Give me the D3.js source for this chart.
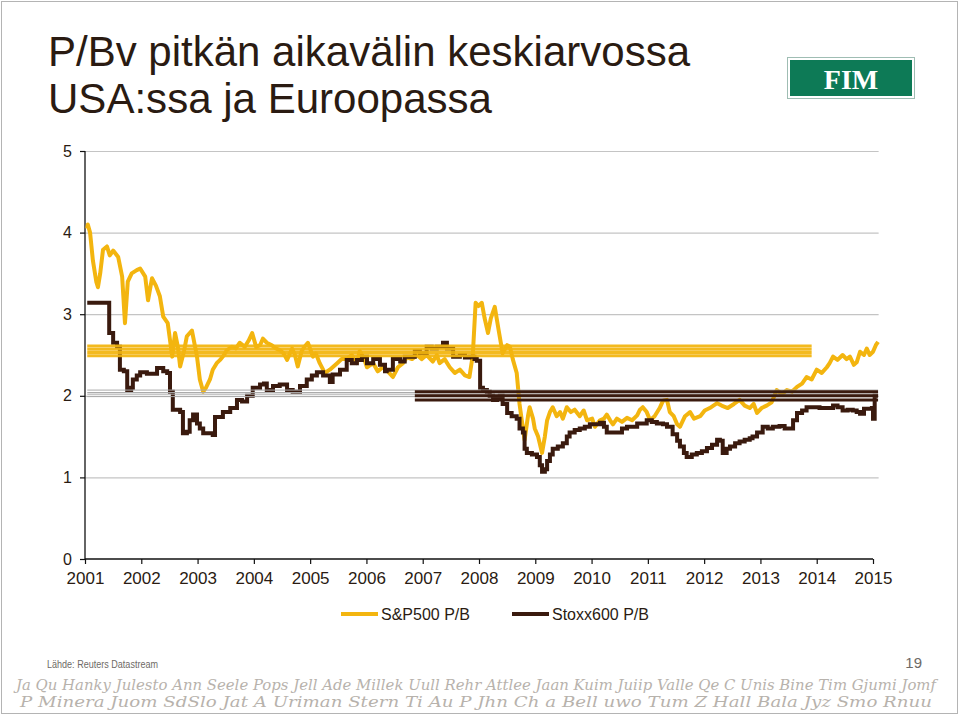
<!DOCTYPE html>
<html lang="fi">
<head>
<meta charset="UTF-8">
<title>P/Bv pitkän aikavälin keskiarvossa</title>
<script src="https://d3js.org/d3.v7.min.js"></script>
<style>
  body { margin: 0; background: #fff; }
  svg { display: block; font-family: "Liberation Sans", Arial, sans-serif; }
</style>
</head>
<body>
<svg id="chart" width="960" height="716"></svg>
<script>
// --- data (decimal year, P/B) ---
const spYears = [2001.04, 2001.05, 2001.09, 2001.14, 2001.20, 2001.23, 2001.27, 2001.32, 2001.39, 2001.44, 2001.50, 2001.59, 2001.66, 2001.71, 2001.76, 2001.83, 2001.92, 2001.98,
  2002.07, 2002.12, 2002.19, 2002.26, 2002.33, 2002.39, 2002.47, 2002.55, 2002.60, 2002.65, 2002.69, 2002.76, 2002.81, 2002.90, 2002.99,
  2003.04, 2003.10, 2003.15, 2003.22, 2003.27, 2003.34, 2003.40, 2003.47, 2003.52, 2003.61, 2003.68, 2003.75, 2003.84, 2003.91, 2003.97,
  2004.04, 2004.11, 2004.16, 2004.23, 2004.32, 2004.39, 2004.46, 2004.53, 2004.59, 2004.68, 2004.73, 2004.78, 2004.85, 2004.90, 2004.96,
  2005.05, 2005.10, 2005.17, 2005.26, 2005.35, 2005.48, 2005.56, 2005.65, 2005.74, 2005.83, 2005.88, 2005.96,
  2006.01, 2006.12, 2006.20, 2006.29, 2006.38, 2006.47, 2006.56, 2006.65, 2006.72, 2006.81, 2006.90, 2006.98,
  2007.07, 2007.18, 2007.25, 2007.30, 2007.39, 2007.48, 2007.57, 2007.66, 2007.75, 2007.83, 2007.89, 2007.94, 2007.99,
  2008.05, 2008.10, 2008.16, 2008.21, 2008.28, 2008.35, 2008.42, 2008.50, 2008.55, 2008.60, 2008.67, 2008.72, 2008.76, 2008.81, 2008.87, 2008.90, 2008.96, 2008.99,
  2009.05, 2009.12, 2009.17, 2009.21, 2009.26, 2009.31, 2009.38, 2009.44, 2009.49, 2009.56, 2009.63, 2009.70, 2009.79, 2009.86, 2009.92,
  2010.01, 2010.06, 2010.15, 2010.22, 2010.27, 2010.33, 2010.38, 2010.45, 2010.54, 2010.63, 2010.72, 2010.81, 2010.86, 2010.91, 2010.98,
  2011.04, 2011.12, 2011.21, 2011.27, 2011.34, 2011.39, 2011.46, 2011.52, 2011.57, 2011.66, 2011.75, 2011.82, 2011.93,
  2012.01, 2012.10, 2012.23, 2012.31, 2012.42, 2012.53, 2012.63, 2012.72, 2012.81, 2012.88, 2012.94,
  2013.02, 2013.11, 2013.20, 2013.29, 2013.38, 2013.47, 2013.56, 2013.65, 2013.74, 2013.82, 2013.91,
  2014.00, 2014.09, 2014.18, 2014.23, 2014.29, 2014.37, 2014.46, 2014.53, 2014.59, 2014.66, 2014.71, 2014.77, 2014.84, 2014.89, 2014.94,
  2015.00, 2015.05, 2015.09];
const spValues = [4.05, 4.1, 4.0, 3.66, 3.4, 3.33, 3.5, 3.79, 3.83, 3.72, 3.78, 3.7, 3.46, 2.89, 3.4, 3.5, 3.54, 3.56,
  3.46, 3.17, 3.44, 3.35, 3.22, 2.97, 2.89, 2.48, 2.77, 2.6, 2.36, 2.55, 2.73, 2.8, 2.48,
  2.2, 2.05, 2.1, 2.2, 2.32, 2.4, 2.44, 2.5, 2.56, 2.6, 2.58, 2.65, 2.6, 2.68, 2.77,
  2.6, 2.62, 2.7, 2.65, 2.62, 2.58, 2.56, 2.52, 2.44, 2.58, 2.5, 2.36, 2.55, 2.6, 2.65,
  2.48, 2.52, 2.4, 2.28, 2.32, 2.4, 2.45, 2.45, 2.5, 2.4, 2.55, 2.45,
  2.35, 2.4, 2.3, 2.35, 2.3, 2.23, 2.35, 2.4, 2.47, 2.45, 2.5, 2.45,
  2.5, 2.42, 2.5, 2.4, 2.45, 2.35, 2.28, 2.32, 2.25, 2.23, 2.5, 3.14, 3.1,
  3.14, 2.95, 2.77, 2.95, 3.09, 2.8, 2.52, 2.62, 2.6, 2.45, 2.28, 1.9, 1.7, 1.46, 1.75, 1.86, 1.72, 1.6,
  1.5, 1.3, 1.5, 1.7, 1.8, 1.86, 1.75, 1.8, 1.72, 1.86, 1.8, 1.83, 1.75, 1.82, 1.7,
  1.72, 1.62, 1.7, 1.72, 1.77, 1.7, 1.65, 1.72, 1.68, 1.73, 1.7, 1.76, 1.83, 1.86, 1.8,
  1.7, 1.75, 1.85, 1.94, 1.95, 1.8, 1.75, 1.65, 1.62, 1.75, 1.8, 1.72, 1.75,
  1.82, 1.85, 1.91, 1.88, 1.85, 1.9, 1.95, 1.88, 1.85, 1.9, 1.79,
  1.85, 1.88, 1.92, 2.07, 2.02, 2.07, 2.05, 2.11, 2.15, 2.23, 2.2,
  2.32, 2.28, 2.35, 2.4, 2.48, 2.44, 2.5, 2.45, 2.48, 2.38, 2.41, 2.54, 2.5, 2.58, 2.5,
  2.54, 2.62, 2.66];

const stoxxYears = [2001.04, 2001.41, 2001.43, 2001.50, 2001.57, 2001.62, 2001.69, 2001.75, 2001.82, 2001.85, 2001.92, 2001.98,
  2002.10, 2002.19, 2002.28, 2002.39, 2002.46, 2002.51, 2002.56, 2002.69, 2002.74, 2002.81, 2002.86, 2002.92, 2002.99,
  2003.04, 2003.10, 2003.27, 2003.31, 2003.45, 2003.58, 2003.70, 2003.79, 2003.88, 2003.98,
  2004.11, 2004.18, 2004.23, 2004.34, 2004.46, 2004.59, 2004.69, 2004.82, 2004.94,
  2005.03, 2005.12, 2005.23, 2005.35, 2005.40, 2005.53, 2005.65, 2005.74, 2005.83, 2005.92,
  2006.01, 2006.12, 2006.24, 2006.33, 2006.36, 2006.47, 2006.60, 2006.68, 2006.77, 2006.86, 2006.95,
  2007.07, 2007.16, 2007.25, 2007.36, 2007.43, 2007.54, 2007.66, 2007.75, 2007.83, 2007.92, 2007.96,
  2008.02, 2008.07, 2008.14, 2008.19, 2008.25, 2008.32, 2008.37, 2008.42, 2008.50, 2008.58, 2008.67, 2008.72, 2008.78, 2008.81, 2008.85, 2008.94,
  2009.03, 2009.08, 2009.12, 2009.17, 2009.21, 2009.26, 2009.31, 2009.40, 2009.49, 2009.56, 2009.61, 2009.70, 2009.79, 2009.88, 2009.97,
  2010.06, 2010.15, 2010.22, 2010.27, 2010.36, 2010.45, 2010.54, 2010.63, 2010.72, 2010.81, 2010.89, 2010.98,
  2011.07, 2011.16, 2011.27, 2011.34, 2011.39, 2011.44, 2011.52, 2011.57, 2011.64, 2011.69, 2011.78, 2011.87, 2011.96,
  2012.05, 2012.14, 2012.23, 2012.28, 2012.33, 2012.40, 2012.46, 2012.55, 2012.63, 2012.72, 2012.81, 2012.86, 2012.94,
  2013.04, 2013.13, 2013.22, 2013.34, 2013.43, 2013.52, 2013.58, 2013.65, 2013.74, 2013.82, 2013.91,
  2014.05, 2014.18, 2014.29, 2014.37, 2014.46, 2014.55, 2014.64, 2014.71, 2014.77, 2014.84, 2014.93, 2014.98,
  2015.00, 2015.03, 2015.09];
const stoxxValues = [3.14, 3.14, 2.77, 2.65, 2.6, 2.32, 2.3, 2.07, 2.1, 2.2, 2.25, 2.29,
  2.27, 2.27, 2.34, 2.3, 2.28, 2.05, 1.83, 1.8, 1.54, 1.56, 1.7, 1.77, 1.66,
  1.6, 1.54, 1.52, 1.74, 1.8, 1.85, 1.95, 1.93, 2.0, 2.1,
  2.14, 2.15, 2.07, 2.12, 2.14, 2.07, 2.05, 2.12, 2.2,
  2.25, 2.29, 2.25, 2.17, 2.26, 2.32, 2.44, 2.4, 2.44, 2.48,
  2.4, 2.45, 2.38, 2.3, 2.32, 2.45, 2.42, 2.48, 2.48, 2.55, 2.52,
  2.6, 2.58, 2.6, 2.65, 2.58, 2.48, 2.5, 2.47, 2.48, 2.45, 2.43,
  2.1, 2.07, 2.05, 2.0, 1.95, 1.98, 2.0, 1.9, 1.79, 1.75, 1.72, 1.6, 1.55, 1.35, 1.3, 1.28,
  1.25, 1.15, 1.07, 1.1, 1.2, 1.28, 1.35, 1.38, 1.42, 1.5, 1.55, 1.58, 1.6, 1.62, 1.65,
  1.65, 1.67, 1.62, 1.55, 1.55, 1.55, 1.6, 1.62, 1.62, 1.66, 1.66, 1.7,
  1.68, 1.66, 1.65, 1.62, 1.62, 1.53, 1.45, 1.38, 1.3, 1.25, 1.28, 1.3, 1.32,
  1.36, 1.4, 1.46, 1.45, 1.3, 1.35, 1.38, 1.42, 1.44, 1.46, 1.48, 1.5, 1.55,
  1.62, 1.6, 1.62, 1.63, 1.6, 1.6, 1.7, 1.79, 1.82, 1.86, 1.86,
  1.85, 1.85, 1.88, 1.86, 1.82, 1.83, 1.82, 1.8, 1.78, 1.84, 1.84, 1.85,
  1.72, 2.0, 2.0];

// long-term averages, drawn as stacked bands like the original
const spAvgLevels = [2.49, 2.53, 2.57, 2.61];
const spAvgSpan = [2001.04, 2013.91];
const stoxxAvgThin = [1.99, 2.02, 2.04, 2.07];
const stoxxAvgThick = [1.95, 2.0, 2.05];
const stoxxAvgSpan = [2001.04, 2015.09];
const stoxxAvgThickStart = 2006.86;

const yearTicks = d3.range(2001, 2016);
const valueTicks = [0, 1, 2, 3, 4, 5];
const seriesNames = ["S&P500 P/B", "Stoxx600 P/B"];

const yellow = "#f3b50f", brown = "#3a1a0e", ink = "#2a1b12";

const svg = d3.select("#chart");

// slide frame
svg.append("rect").attr("x", 1.5).attr("y", 1.5).attr("width", 956).attr("height", 712)
  .attr("fill", "none").attr("stroke", "#b4b4b4");

// title
const title = ["P/Bv pitkän aikavälin keskiarvossa", "USA:ssa ja Euroopassa"];
const titleLen = [642, 444];
svg.selectAll(".title").data(title).enter().append("text")
  .attr("x", 48).attr("y", (d, i) => 66 + i * 47)
  .attr("font-size", 43).attr("fill", ink)
  .attr("textLength", (d, i) => titleLen[i]).attr("lengthAdjust", "spacingAndGlyphs")
  .text(d => d);

// FIM logo
svg.append("rect").attr("x", 787.5).attr("y", 57.5).attr("width", 127).attr("height", 41)
  .attr("fill", "#fff").attr("stroke", "#9fbdb3");
svg.append("rect").attr("x", 790).attr("y", 60).attr("width", 122).attr("height", 36)
  .attr("fill", "#0d7a56");
svg.append("text").attr("x", 851).attr("y", 89).attr("text-anchor", "middle")
  .attr("font-family", "'Liberation Serif', 'DejaVu Serif', serif").attr("font-weight", "bold")
  .attr("font-size", 28).attr("fill", "#fff").text("FIM");

// scales
const x = d3.scaleLinear().domain([2001, 2015]).range([85, 873]);
const y = d3.scaleLinear().domain([0, 5]).range([559, 151]);

// gridlines
svg.append("g").selectAll("line").data(valueTicks.filter(v => v > 0)).enter().append("line")
  .attr("x1", x(2001)).attr("x2", x(2015.1))
  .attr("y1", d => y(d) + 0.5).attr("y2", d => y(d) + 0.5)
  .attr("stroke", "#c4c4c4").attr("stroke-width", 1.2);

// axes
const yAxis = svg.append("g").attr("transform", `translate(${x(2001)},0)`)
  .call(d3.axisLeft(y).tickValues(valueTicks).tickSize(5).tickPadding(8).tickFormat(d3.format("d")));
const xAxis = svg.append("g").attr("transform", `translate(0,${y(0)})`)
  .call(d3.axisBottom(x).tickValues(yearTicks).tickSize(5).tickPadding(8).tickFormat(d3.format("d")));
[xAxis, yAxis].forEach(g => {
  g.attr("font-size", 17).attr("font-family", "'Liberation Sans', Arial, sans-serif");
  g.select(".domain").attr("stroke", "#111").attr("stroke-width", 1.3);
  g.selectAll(".tick line").attr("stroke", "#111").attr("stroke-width", 1.2);
  g.selectAll("text").attr("fill", ink);
});
yAxis.attr("font-size", 16);
yAxis.select(".domain").attr("d", `M0,${y(0)}V${y(5)}`);
xAxis.select(".domain").attr("d", `M${x(2001)},0H${x(2015)}`);

// series
const spData = spYears.map((t, i) => [t, spValues[i]]);
const stoxxData = stoxxYears.map((t, i) => [t, stoxxValues[i]]);

svg.append("path").datum(spData)
  .attr("fill", "none").attr("stroke", yellow).attr("stroke-width", 4)
  .attr("stroke-linejoin", "round")
  .attr("d", d3.line().x(d => x(d[0])).y(d => y(d[1])));

svg.append("path").datum(stoxxData)
  .attr("fill", "none").attr("stroke", brown).attr("stroke-width", 4)
  .attr("d", d3.line().curve(d3.curveStepAfter).x(d => x(d[0])).y(d => y(d[1])));

// average bands
svg.append("g").selectAll("line").data(spAvgLevels).enter().append("line")
  .attr("x1", x(spAvgSpan[0])).attr("x2", x(spAvgSpan[1]))
  .attr("y1", d => y(d)).attr("y2", d => y(d))
  .attr("stroke", yellow).attr("stroke-width", 3).attr("opacity", 0.93);

svg.append("g").selectAll("line").data(stoxxAvgThin).enter().append("line")
  .attr("x1", x(stoxxAvgSpan[0])).attr("x2", x(stoxxAvgSpan[1]))
  .attr("y1", d => y(d)).attr("y2", d => y(d))
  .attr("stroke", "#a9a9a9").attr("stroke-width", 1);

svg.append("g").selectAll("line").data(stoxxAvgThick).enter().append("line")
  .attr("x1", x(stoxxAvgThickStart)).attr("x2", x(stoxxAvgSpan[1]))
  .attr("y1", d => y(d)).attr("y2", d => y(d))
  .attr("stroke", brown).attr("stroke-width", 3);

// legend
const legend = svg.append("g").selectAll("g").data(seriesNames).enter().append("g")
  .attr("transform", (d, i) => `translate(${[341, 512][i]},614)`);
legend.append("line").attr("x1", 0).attr("x2", 37)
  .attr("stroke", (d, i) => i === 0 ? yellow : brown).attr("stroke-width", 4);
legend.append("text").attr("x", 40).attr("y", 6).attr("font-size", 16).attr("fill", ink).text(d => d);

// footer
svg.append("text").attr("x", 47).attr("y", 668).attr("font-size", 11).attr("fill", "#6e6a66")
  .attr("textLength", 111).attr("lengthAdjust", "spacingAndGlyphs").text("Lähde: Reuters Datastream");
svg.append("text").attr("x", 922).attr("y", 668).attr("text-anchor", "end")
  .attr("font-size", 15).attr("fill", "#6e6a66").text("19");

// signature strip (decorative)
const sigRow1 = ["Ja Qu", "Hanky Julesto", "Ann Seele", "Pops", "Jell", "Ade Millek", "Uull", "Rehr", "Attlee", "Jaan Kuim", "Juiip Valle", "Qe C", "Unis", "Bine", "Tim Gjumi", "Jomf"];
const sigRow2 = ["P Minera", "Juom", "SdSlo", "Jat A", "Uriman Stern", "Ti", "Au P", "Jhn", "Ch a Bell", "uwo", "Tum", "Z Hall", "Bala", "Jyz", "Smo", "Rnuu"];
[sigRow1, sigRow2].forEach((row, r) => {
  svg.append("text").attr("x", 16 + r * 4).attr("y", 690 + r * 17)
    .attr("font-family", "'DejaVu Serif', serif").attr("font-style", "italic")
    .attr("font-size", 15).attr("fill", "#9a928a").attr("opacity", 0.7)
    .attr("textLength", 920 - r * 8).attr("lengthAdjust", "spacingAndGlyphs")
    .text(row.join("  "));
});
</script>
</body>
</html>
